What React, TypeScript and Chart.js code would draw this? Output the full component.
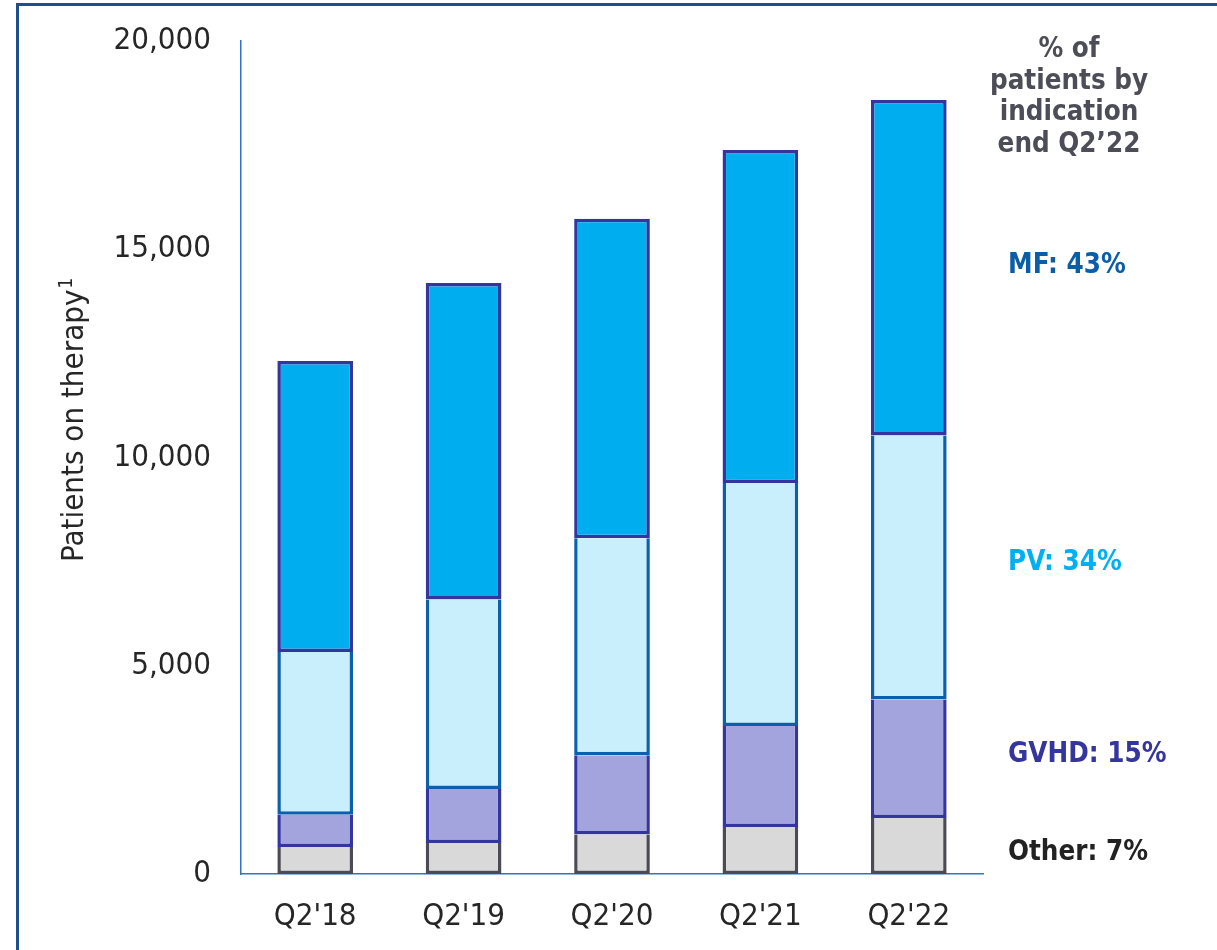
import React, { useEffect, useRef } from "react";
import { Chart, registerables } from "chart.js";

Chart.register(...registerables);

// ---- Data ----
const categories = ["Q2'18", "Q2'19", "Q2'20", "Q2'21", "Q2'22"];
const otherValues = [650, 745, 950, 1130, 1345];
const gvhdValues = [770, 1295, 1900, 2425, 2845];
const pvValues = [3910, 4550, 5210, 5835, 6340];
const mfValues = [6985, 7600, 7670, 7995, 8055];
const yTicks = [0, 5000, 10000, 15000, 20000];
const yTitle = "Patients on therapy";
const yTitleSup = "1";
const headerLines = ["% of", "patients by", "indication", "end Q2\u201922"];
const indicationLabels = ["MF: 43%", "PV: 34%", "GVHD: 15%", "Other: 7%"];

// ---- Styles ----
const FONT = "'DejaVu Sans Condensed', 'Noto Sans', sans-serif";
const TEXT = "#262626";
const AXIS = "#2f75c5";
const labelColors = ["#0a5ea8", "#00b0f0", "#35359e", "#222222"];
const labelBaselines = [273, 570, 762, 860];
const headerBaselines = [57, 88.7, 120.4, 152];

const overlayPlugin = {
  id: "overlay",
  afterDraw(chart: any) {
    const ctx = chart.ctx as CanvasRenderingContext2D;
    // Y axis title (rotated)
    ctx.save();
    ctx.translate(83, 562);
    ctx.rotate(-Math.PI / 2);
    ctx.fillStyle = TEXT;
    ctx.textAlign = "left";
    ctx.textBaseline = "alphabetic";
    ctx.font = `31px ${FONT}`;
    ctx.fillText(yTitle, 0, 0);
    const w = ctx.measureText(yTitle).width;
    ctx.font = `19px ${FONT}`;
    ctx.fillText(yTitleSup, w + 1, -11);
    ctx.restore();

    // Header and indication labels
    ctx.save();
    ctx.textBaseline = "alphabetic";
    ctx.font = `bold 27.5px ${FONT}`;
    ctx.fillStyle = "#4d4d57";
    ctx.textAlign = "center";
    headerLines.forEach((line, i) => ctx.fillText(line, 1069, headerBaselines[i]));
    ctx.textAlign = "left";
    indicationLabels.forEach((lab, i) => {
      ctx.fillStyle = labelColors[i];
      ctx.fillText(lab, 1008, labelBaselines[i]);
    });
    ctx.restore();
  },
};

export default function App() {
  const canvasRef = useRef<HTMLCanvasElement | null>(null);

  useEffect(() => {
    if (!canvasRef.current) return;
    const chart = new Chart(canvasRef.current, {
      type: "bar",
      data: {
        labels: categories,
        datasets: [
          {
            label: "Other",
            data: otherValues,
            backgroundColor: "#d9d9d9",
            borderColor: "#4b4b55",
            borderWidth: 3.5,
            borderSkipped: "top",
          },
          {
            label: "GVHD",
            data: gvhdValues,
            backgroundColor: "#a3a3de",
            borderColor: "#35359e",
            borderWidth: 3.5,
            borderSkipped: "top",
          },
          {
            label: "PV",
            data: pvValues,
            backgroundColor: "#c9eefc",
            borderColor: "#0b5fad",
            borderWidth: 3.5,
            borderSkipped: "top",
          },
          {
            label: "MF",
            data: mfValues,
            backgroundColor: "#00adee",
            borderColor: "#35359e",
            borderWidth: 3.5,
            borderSkipped: false,
          },
        ],
      },
      options: {
        responsive: false,
        animation: false,
        layout: { padding: { left: 0, right: 234, top: 41, bottom: 0 } },
        plugins: {
          legend: { display: false },
          tooltip: { enabled: false },
        },
        datasets: {
          bar: { barPercentage: 0.51, categoryPercentage: 1 },
        },
        scales: {
          x: {
            stacked: true,
            grid: { display: false, drawTicks: false },
            border: { display: true, color: AXIS, width: 1.5 },
            ticks: {
              color: TEXT,
              font: { family: FONT, size: 31 },
              padding: 24,
            },
            afterFit: (s: any) => {
              s.height = 76;
            },
          },
          y: {
            stacked: true,
            min: 0,
            max: 20000,
            grid: { display: false, drawTicks: false },
            border: { display: true, color: AXIS, width: 1.5 },
            afterBuildTicks: (s: any) => {
              s.ticks = yTicks.map((v) => ({ value: v }));
            },
            ticks: {
              color: TEXT,
              font: { family: FONT, size: 31 },
              padding: 30,
              callback: (v: any) => Number(v).toLocaleString("en-US"),
            },
            afterFit: (s: any) => {
              s.width = 241;
              s.paddingTop = 0;
              s.paddingBottom = 0;
            },
          },
        },
      } as any,
      plugins: [overlayPlugin],
    });
    return () => chart.destroy();
  }, []);

  return (
    <div style={{ position: "fixed", left: 0, top: 0, width: 1217, height: 950, overflow: "hidden", background: "#fff" }}>
      <div
        style={{
          position: "absolute",
          left: 16,
          top: 3,
          width: 1400,
          height: 1100,
          border: "3px solid #1d4f8b",
          boxSizing: "border-box",
        }}
      />
      <canvas
        ref={canvasRef}
        width={1217}
        height={950}
        style={{ position: "absolute", left: 0, top: 0, width: 1217, height: 950 }}
      />
    </div>
  );
}
